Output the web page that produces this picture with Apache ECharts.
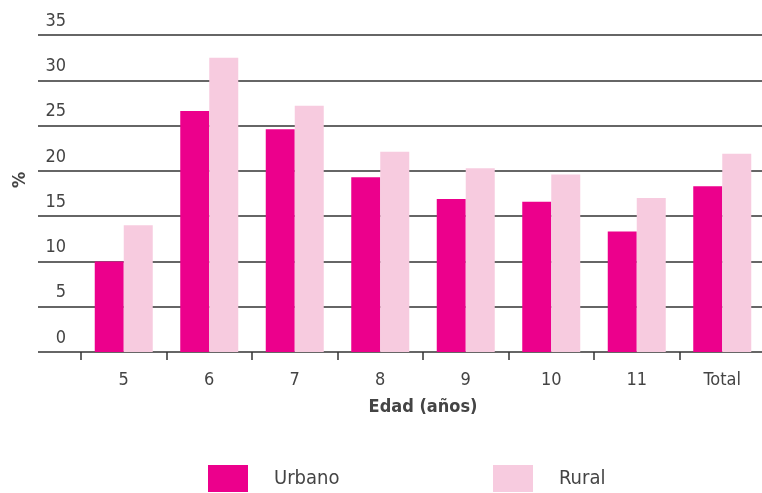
<!DOCTYPE html>
<html>
<head>
<meta charset="utf-8">
<script src="https://cdn.jsdelivr.net/npm/echarts@6/dist/echarts.min.js"></script>
<style>
  html, body { margin: 0; padding: 0; background: #fff; overflow: hidden; }
  /* a little wider than the window: the last category edge falls just off-canvas */
  #chart { width: 768px; height: 493px; }
</style>
</head>
<body>
<div id="chart"></div>
<script>
const categories = ['5', '6', '7', '8', '9', '10', '11', 'Total']
const urbano = [10.0, 26.6, 24.6, 19.3, 16.9, 16.6, 13.3, 18.3]
const rural = [14.0, 32.5, 27.2, 22.1, 20.3, 19.6, 17.0, 21.9]

const font = "'Liberation Sans Narrow', 'DejaVu Sans Condensed', sans-serif"
const textColor = '#444'
const lineColor = '#333'
const pink = '#EC008C'
const lightPink = '#F7CBDF'

const chart = echarts.init(document.getElementById('chart'))

chart.setOption({
  animation: false,
  textStyle: { fontFamily: font },
  grid: [
    // gridlines + y labels (reach further left than the bars)
    { left: 38, right: 6, top: 35, bottom: 141 },
    // category band for the bars
    { left: 81, right: 3, top: 35, bottom: 141 }
  ],
  legend: [
    {
      left: 208, top: 465, padding: 0,
      itemWidth: 40, itemHeight: 27, itemGap: 0,
      icon: 'rect',
      data: ['Urbano'],
      textStyle: { fontFamily: font, fontSize: 20, color: textColor, padding: [0, 0, 0, 21] }
    },
    {
      left: 493, top: 465, padding: 0,
      itemWidth: 40, itemHeight: 27, itemGap: 0,
      icon: 'rect',
      data: ['Rural'],
      textStyle: { fontFamily: font, fontSize: 20, color: textColor, padding: [0, 0, 0, 21] }
    }
  ],
  graphic: [{
    type: 'text',
    x: 20, y: 180,
    rotation: Math.PI / 2,
    style: {
      text: '%',
      fontFamily: font,
      fontSize: 18,
      fontWeight: 'bold',
      fill: textColor,
      textAlign: 'center',
      textVerticalAlign: 'middle'
    }
  }],
  xAxis: [
    { gridIndex: 0, type: 'value', min: 0, max: 1, show: false },
    {
      gridIndex: 1,
      type: 'category',
      data: categories,
      axisLine: { show: false },
      axisTick: { show: true, length: 8, lineStyle: { color: lineColor, width: 1.5 } },
      axisLabel: { color: textColor, fontSize: 18, margin: 19 },
      name: 'Edad (años)',
      nameLocation: 'middle',
      nameGap: 46,
      nameTextStyle: { fontFamily: font, fontSize: 18, fontWeight: 'bold', color: textColor }
    }
  ],
  yAxis: [
    {
      gridIndex: 0,
      type: 'value',
      min: 0,
      max: 35,
      interval: 5,
      axisLine: { show: false },
      axisTick: { show: false },
      splitLine: { lineStyle: { color: lineColor, width: 1.5 } },
      axisLabel: {
        color: textColor,
        fontSize: 18,
        margin: -28,
        align: 'right',
        verticalAlign: 'bottom',
        lineHeight: 18,
        padding: [0, 0, 5, 0]
      }
    },
    { gridIndex: 1, type: 'value', min: 0, max: 35, show: false }
  ],
  series: [
    {
      name: 'Urbano',
      type: 'bar',
      xAxisIndex: 1,
      yAxisIndex: 1,
      barWidth: 29,
      barGap: '0%',
      itemStyle: { color: pink },
      data: urbano
    },
    {
      name: 'Rural',
      type: 'bar',
      xAxisIndex: 1,
      yAxisIndex: 1,
      barWidth: 29,
      barGap: '0%',
      itemStyle: { color: lightPink },
      data: rural
    }
  ]
})
</script>
</body>
</html>
